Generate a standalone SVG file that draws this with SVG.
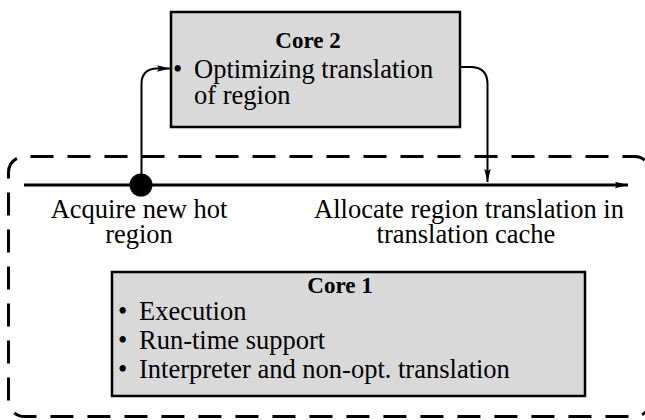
<svg xmlns="http://www.w3.org/2000/svg" width="645" height="420" viewBox="0 0 645 420">
<style>
.t{font-family:'Liberation Serif','Times New Roman',serif;font-size:26.5px;fill:#000}
.h{font-family:'Liberation Serif','Times New Roman',serif;font-size:23px;font-weight:bold;text-anchor:middle;fill:#000}
.c{text-anchor:middle}
.box{fill:#d9d9d9;stroke:#000;stroke-width:2.5}
.ln{fill:none;stroke:#000;stroke-width:2}
</style>
<defs>
<marker id="ah" markerWidth="14" markerHeight="8" refX="13" refY="4" orient="auto" markerUnits="userSpaceOnUse">
<path d="M0,0.8 L13,4 L0,7.2 L2,4 Z" fill="#000"/>
</marker>
</defs>
<rect id="region" x="8.5" y="156.5" width="642" height="260" rx="16" fill="none" stroke="#000" stroke-width="3" stroke-dasharray="23 14" stroke-dashoffset="-6"/>
<g id="connectors">
<line x1="24" y1="185" x2="628" y2="185" stroke="#000" stroke-width="3" marker-end="url(#ah)"/>
<path class="ln" d="M141.5,185 L141.5,84 Q141.5,69 157,68.5 L170,68.5" marker-end="url(#ah)"/>
<path class="ln" d="M460,67 L472,67 Q487.5,68 487.5,84 L487.5,182" marker-end="url(#ah)"/>
</g>
<g id="core2">
<rect class="box" x="171" y="12" width="289" height="115"/>
<text class="h" x="308" y="48">Core 2</text>
<text class="t" x="173" y="78">•</text>
<text class="t" x="194" y="78">Optimizing translation</text>
<text class="t" x="194" y="104">of region</text>
</g>
<g id="acquire">
<circle cx="141" cy="185" r="11.5" fill="#000"/>
<text class="t c" x="139" y="218">Acquire new hot</text>
<text class="t c" x="139" y="243">region</text>
</g>
<g id="allocate">
<text class="t c" x="469" y="218">Allocate region translation in</text>
<text class="t c" x="466" y="243">translation cache</text>
</g>
<g id="core1">
<rect class="box" x="112" y="272" width="473" height="124"/>
<text class="h" x="340" y="293">Core 1</text>
<text class="t" x="118" y="320">•</text>
<text class="t" x="139" y="320">Execution</text>
<text class="t" x="118" y="349">•</text>
<text class="t" x="139" y="349">Run-time support</text>
<text class="t" x="118" y="378">•</text>
<text class="t" x="139" y="378">Interpreter and non-opt. translation</text>
</g>
</svg>
